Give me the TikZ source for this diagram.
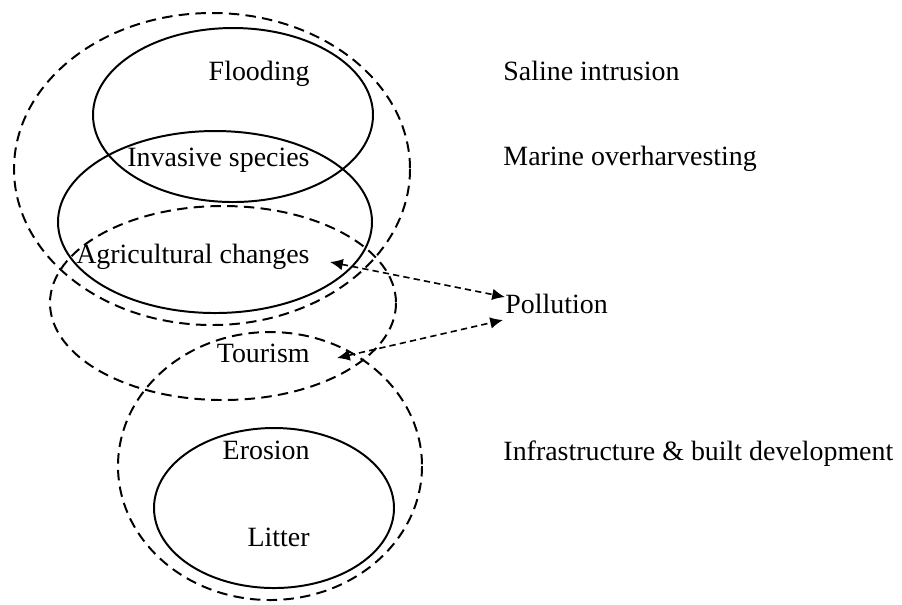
\documentclass[tikz,border=0pt]{standalone}
\usepackage{fontspec}
\setmainfont{Liberation Serif}
\usetikzlibrary{arrows.meta}
\tikzset{
  ring/.style={line width=0.85pt},
  dashring/.style={line width=0.85pt, dash pattern=on 4.5pt off 2.7pt},
  link/.style={line width=0.7pt, dash pattern=on 2.7pt off 1.8pt,
    {Latex[length=5.5pt,width=5pt]}-{Latex[length=5.5pt,width=5pt]}},
  lbl/.style={inner sep=0pt, font=\fontsize{12}{14}\selectfont}
}
\begin{document}
\begin{tikzpicture}[x=0.43pt,y=-0.43pt]
    \useasboundingbox (0,0) rectangle (902,604);
    % outer groups
    \draw[dashring] (212,169) ellipse [x radius=198, y radius=156];
    \draw[dashring] (223,303) ellipse [x radius=173, y radius=97];
    \draw[dashring] (270,466) ellipse [x radius=152, y radius=134];
    % inner groups
    \draw[ring] (233,115) ellipse [x radius=140, y radius=87];
    \draw[ring] (215,222) ellipse [x radius=157, y radius=91];
    \draw[ring] (274,508) ellipse [x radius=120, y radius=80];
    % labels inside
    \node[lbl,anchor=base east](flood) at (310,80) {Flooding};
    \node[lbl,anchor=base east](inv) at (310,166) {Invasive species};
    \node[lbl,anchor=base east](agri) at (310,263) {Agricultural changes};
    \node[lbl,anchor=base east](tour) at (310,362) {Tourism};
    \node[lbl,anchor=base east](eros) at (310,459) {Erosion};
    \node[lbl,anchor=base east](lit) at (310,546) {Litter};
    % labels outside
    \node[lbl,anchor=base west](sal) at (503,80) {Saline intrusion};
    \node[lbl,anchor=base west](mar) at (503,165) {Marine overharvesting};
    \node[lbl,anchor=base west](pol) at (505,313) {Pollution};
    \node[lbl,anchor=base west](infra) at (503,460) {Infrastructure \& built development};
    % links to pollution
    \coordinate (agriend) at (330,262);
    \coordinate (tourend) at (337,358);
    \coordinate (polA) at (505,297);
    \coordinate (polB) at (503,320);
    \draw[link] (agriend)--(polA);
    \draw[link] (tourend)--(polB);
\end{tikzpicture}
\end{document}
